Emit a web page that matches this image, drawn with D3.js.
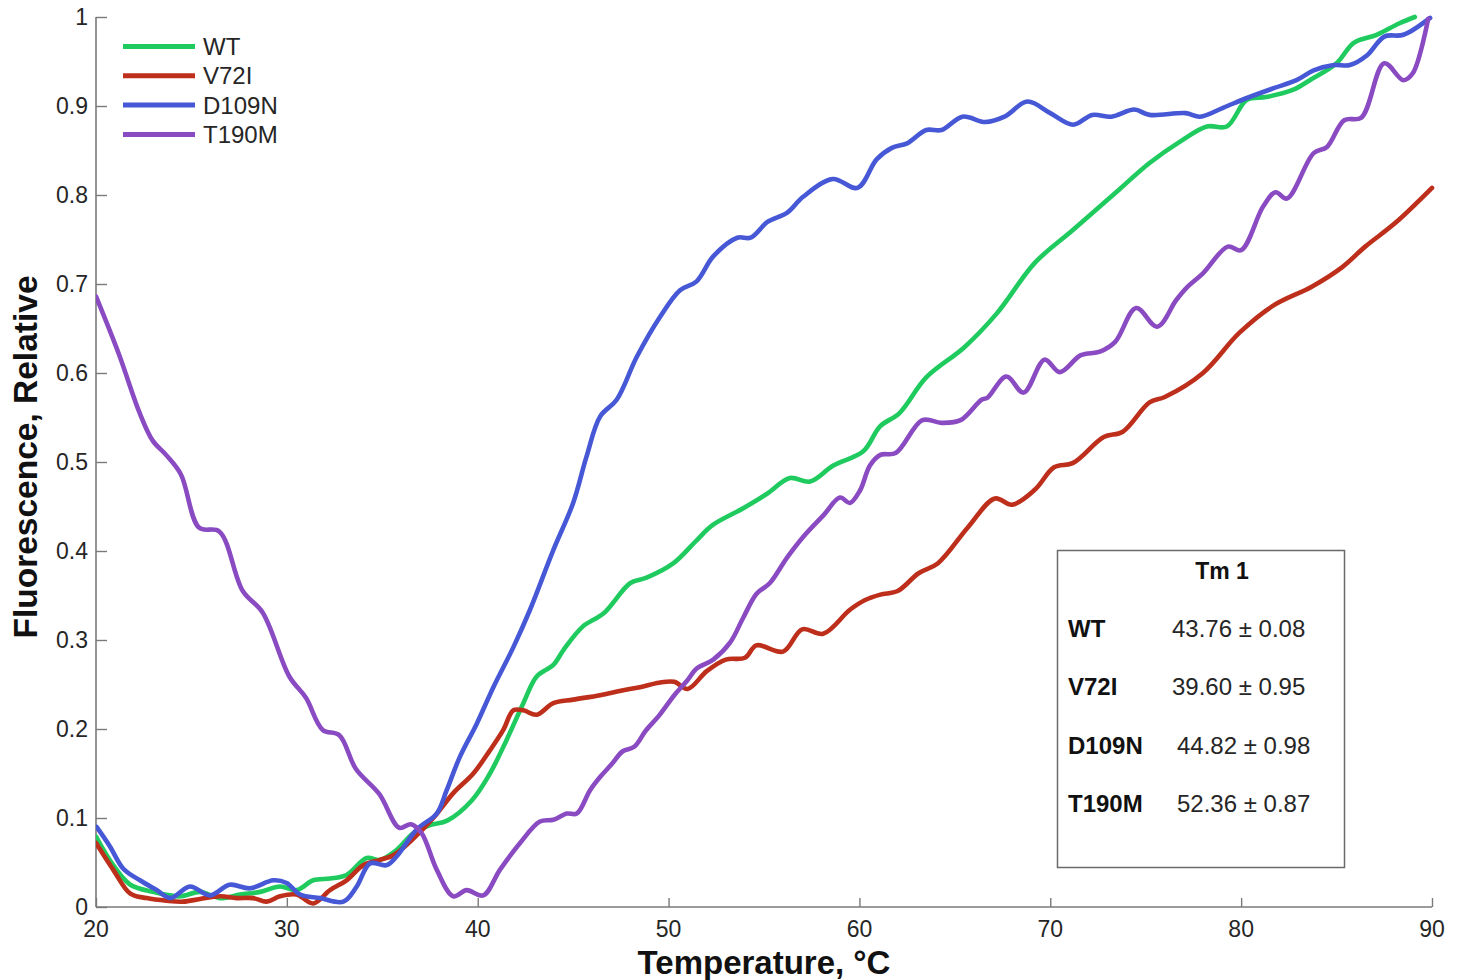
<!DOCTYPE html>
<html>
<head>
<meta charset="utf-8">
<script src="https://cdn.jsdelivr.net/npm/d3@7/dist/d3.min.js"></script>
<style>
  html, body { margin: 0; padding: 0; background: #fff; }
  svg { display: block; font-family: "Liberation Sans", Arial, sans-serif; }
</style>
</head>
<body>
<svg id="chart" width="1462" height="980"></svg>
<script>
// ---------- data ----------
const xTicks = [20, 30, 40, 50, 60, 70, 80, 90];
const yTicks = [0, 0.1, 0.2, 0.3, 0.4, 0.5, 0.6, 0.7, 0.8, 0.9, 1];
const yTickLabels = ["0", "0.1", "0.2", "0.3", "0.4", "0.5", "0.6", "0.7", "0.8", "0.9", "1"];

const seriesNames = ["WT", "V72I", "D109N", "T190M"];

const wtT = [20, 20.9, 21.8, 23.0, 24.4, 25.45, 26.5, 27.55, 28.6, 29.64, 30.51, 31.38, 32.26, 33.13, 34.18, 34.88, 35.75, 36.63, 37.5, 38.4, 39.7, 40.64, 41.52, 42.39, 43.09, 43.96, 44.5, 45.5, 46.6, 48.0, 48.85, 50.24, 51.47, 52.3, 53.91, 55.14, 56.36, 57.41, 58.63, 60.2, 61.08, 62.1, 63.5, 65.5, 67.2, 69.2, 71.2, 73.6, 75.2, 76.8, 78.2, 79.25, 80.3, 81.3, 82.7, 83.6, 85.0, 85.9, 87.1, 88.3, 89.1];
const wtV = [0.079, 0.047, 0.025, 0.017, 0.012, 0.017, 0.010, 0.014, 0.017, 0.023, 0.019, 0.030, 0.032, 0.036, 0.055, 0.053, 0.064, 0.083, 0.092, 0.097, 0.120, 0.150, 0.188, 0.229, 0.259, 0.272, 0.289, 0.315, 0.330, 0.364, 0.370, 0.386, 0.412, 0.429, 0.448, 0.464, 0.482, 0.478, 0.496, 0.512, 0.540, 0.555, 0.595, 0.629, 0.667, 0.724, 0.761, 0.806, 0.836, 0.860, 0.877, 0.877, 0.907, 0.910, 0.918, 0.929, 0.948, 0.971, 0.980, 0.993, 1.0];

const v72T = [20, 20.9, 21.8, 22.65, 23.7, 24.57, 25.45, 26.5, 27.37, 28.24, 28.94, 29.64, 30.51, 31.38, 32.26, 33.13, 34.0, 34.88, 35.58, 36.63, 37.67, 38.72, 39.77, 40.64, 41.34, 41.87, 42.39, 43.09, 43.96, 45.0, 46.41, 47.5, 48.5, 49.5, 50.3, 51.0, 52.0, 53.0, 54.0, 54.6, 56.0, 57.0, 58.1, 59.5, 60.3, 61.1, 62.0, 63.1, 64.1, 65.7, 67.1, 68.0, 69.2, 70.2, 71.2, 72.8, 73.8, 75.2, 76.0, 78.0, 79.9, 81.7, 83.7, 85.3, 86.5, 88.1, 90];
const v72V = [0.072, 0.042, 0.015, 0.010, 0.007, 0.006, 0.009, 0.012, 0.010, 0.010, 0.006, 0.012, 0.014, 0.004, 0.019, 0.030, 0.047, 0.053, 0.058, 0.077, 0.100, 0.128, 0.150, 0.176, 0.199, 0.221, 0.221, 0.216, 0.229, 0.233, 0.238, 0.243, 0.247, 0.252, 0.253, 0.245, 0.265, 0.278, 0.280, 0.294, 0.287, 0.312, 0.307, 0.334, 0.345, 0.351, 0.355, 0.375, 0.386, 0.427, 0.459, 0.452, 0.469, 0.494, 0.499, 0.528, 0.534, 0.567, 0.573, 0.600, 0.645, 0.676, 0.697, 0.719, 0.742, 0.769, 0.808];

const d109T = [20.03, 20.73, 21.43, 22.3, 23.18, 23.9, 24.92, 25.97, 27.0, 28.07, 29.29, 29.99, 30.69, 31.74, 32.96, 33.66, 34.36, 35.23, 35.76, 36.8, 37.85, 38.37, 39.07, 39.95, 40.82, 41.87, 42.74, 43.96, 45.0, 45.7, 46.41, 47.28, 48.33, 49.55, 50.6, 51.47, 52.34, 53.6, 54.3, 55.2, 56.2, 57.05, 58.6, 59.9, 60.9, 61.7, 62.5, 63.5, 64.3, 65.4, 66.6, 67.6, 68.8, 70.0, 71.2, 72.2, 73.2, 74.4, 75.2, 77.1, 77.85, 79.05, 80.3, 81.7, 82.9, 83.8, 84.85, 85.7, 86.6, 87.5, 88.5, 89.9];
const d109V = [0.090, 0.068, 0.043, 0.030, 0.019, 0.010, 0.023, 0.013, 0.025, 0.021, 0.030, 0.027, 0.014, 0.010, 0.006, 0.023, 0.049, 0.047, 0.057, 0.087, 0.105, 0.131, 0.169, 0.206, 0.247, 0.292, 0.334, 0.401, 0.454, 0.506, 0.551, 0.570, 0.618, 0.663, 0.693, 0.703, 0.731, 0.752, 0.752, 0.770, 0.780, 0.798, 0.818, 0.808, 0.840, 0.853, 0.858, 0.873, 0.873, 0.888, 0.882, 0.888, 0.905, 0.892, 0.879, 0.890, 0.888, 0.896, 0.890, 0.892, 0.888, 0.898, 0.909, 0.920, 0.929, 0.940, 0.946, 0.946, 0.957, 0.978, 0.980, 0.999];

const t190T = [20.0, 21.22, 22.27, 22.97, 23.67, 24.45, 25.41, 26.46, 27.69, 28.73, 30.13, 31.0, 31.88, 32.75, 33.62, 34.84, 35.89, 36.5, 37.06, 37.85, 38.72, 39.42, 40.29, 41.17, 42.22, 43.26, 43.96, 44.66, 45.19, 45.88, 46.41, 47.0, 47.6, 48.2, 48.8, 49.5, 50.3, 51.0, 51.47, 52.34, 53.22, 53.91, 54.61, 55.31, 56.19, 57.06, 58.11, 58.98, 59.5, 60.03, 60.55, 61.1, 61.9, 63.3, 64.3, 65.3, 66.4, 66.7, 67.7, 68.6, 69.7, 70.5, 71.6, 72.6, 73.4, 74.5, 75.6, 76.6, 77.2, 78.0, 79.3, 80.0, 81.15, 81.8, 82.4, 83.8, 84.5, 85.4, 86.3, 87.5, 88.5, 89.0, 89.8];
const t190V = [0.686, 0.620, 0.556, 0.524, 0.508, 0.486, 0.426, 0.422, 0.355, 0.331, 0.259, 0.235, 0.199, 0.193, 0.155, 0.127, 0.089, 0.093, 0.083, 0.042, 0.012, 0.019, 0.013, 0.042, 0.072, 0.096, 0.098, 0.105, 0.105, 0.131, 0.146, 0.160, 0.175, 0.180, 0.198, 0.215, 0.238, 0.255, 0.268, 0.278, 0.297, 0.325, 0.352, 0.364, 0.392, 0.416, 0.440, 0.460, 0.454, 0.468, 0.496, 0.508, 0.510, 0.547, 0.544, 0.547, 0.570, 0.572, 0.596, 0.578, 0.615, 0.601, 0.620, 0.624, 0.635, 0.673, 0.652, 0.682, 0.697, 0.712, 0.742, 0.738, 0.787, 0.803, 0.796, 0.847, 0.854, 0.884, 0.887, 0.948, 0.929, 0.937, 0.998];

const tmLabels = ["WT", "V72I", "D109N", "T190M"];
const tmValues = ["43.76 \u00B1 0.08", "39.60 \u00B1 0.95", "44.82 \u00B1 0.98", "52.36 \u00B1 0.87"];

// ---------- chart ----------
const svg = d3.select("#chart");
const x = d3.scaleLinear().domain([20, 90]).range([96, 1432]);
const y = d3.scaleLinear().domain([0, 1]).range([907, 17]);

const series = [
  { name: "WT", T: wtT, V: wtV, color: "#1fcb5e" },
  { name: "V72I", T: v72T, V: v72V, color: "#bd2e1b" },
  { name: "D109N", T: d109T, V: d109V, color: "#4658d6" },
  { name: "T190M", T: t190T, V: t190V, color: "#8a4bc2" }
];

svg.append("defs").append("clipPath").attr("id", "clip")
  .append("rect").attr("x", 96).attr("y", 12).attr("width", 1340).attr("height", 897);

const axisColor = "#7a7a7a";
const textColor = "#262626";

// Y axis
const yAxis = d3.axisRight(y).tickValues(yTicks).tickSize(11).tickFormat("");
const gy = svg.append("g").attr("transform", "translate(96,0)").call(yAxis);
gy.select(".domain").attr("stroke", axisColor).attr("stroke-width", 1.6).attr("d", `M0,${y(1)}V${y(0)}`);
gy.selectAll(".tick line").attr("stroke", axisColor).attr("stroke-width", 1.4);
svg.append("g").selectAll("text").data(yTicks).join("text")
  .attr("x", 88).attr("y", d => y(d)).attr("dy", "0.36em")
  .attr("text-anchor", "end").attr("font-size", 23).attr("fill", textColor)
  .text((d, i) => yTickLabels[i]);

// X axis
const xAxis = d3.axisTop(x).tickValues(xTicks).tickSize(9).tickFormat("");
const gx = svg.append("g").attr("transform", `translate(0,${y(0)})`).call(xAxis);
gx.select(".domain").attr("stroke", axisColor).attr("stroke-width", 1.6).attr("d", `M${x(20)},0H${x(90)}`);
gx.selectAll(".tick line").attr("stroke", axisColor).attr("stroke-width", 1.4);
svg.append("g").selectAll("text").data(xTicks).join("text")
  .attr("x", d => x(d)).attr("y", 937)
  .attr("text-anchor", "middle").attr("font-size", 23).attr("fill", textColor)
  .text(d => d);

// Axis titles
svg.append("text").attr("x", 764).attr("y", 974).attr("text-anchor", "middle")
  .attr("font-size", 33).attr("font-weight", "bold").attr("fill", "#111")
  .text("Temperature, \u00B0C");
svg.append("text").attr("transform", "translate(37,457) rotate(-90)").attr("text-anchor", "middle")
  .attr("font-size", 33.5).attr("font-weight", "bold").attr("fill", "#111")
  .text("Fluorescence, Relative");

// Lines
const line = d3.line()
  .x(d => x(d[0])).y(d => y(Math.min(1, d[1])))
  .curve(d3.curveCatmullRom.alpha(0.5));

const gl = svg.append("g").attr("clip-path", "url(#clip)");
series.forEach(s => {
  const pts = s.T.map((t, i) => [t, s.V[i]]);
  gl.append("path").datum(pts)
    .attr("fill", "none").attr("stroke", s.color).attr("stroke-width", 4.6)
    .attr("stroke-linejoin", "round").attr("stroke-linecap", "round")
    .attr("d", line);
});

// Legend
const lg = svg.append("g");
series.forEach((s, i) => {
  const ly = 46.5 + i * 29.3;
  lg.append("line").attr("x1", 123).attr("x2", 195).attr("y1", ly).attr("y2", ly)
    .attr("stroke", s.color).attr("stroke-width", 5);
  lg.append("text").attr("x", 203).attr("y", ly).attr("dy", "0.36em")
    .attr("font-size", 24).attr("fill", textColor).text(s.name);
});

// Tm box
const bx = svg.append("g");
bx.append("rect").attr("x", 1057.5).attr("y", 550.5).attr("width", 287).attr("height", 317)
  .attr("fill", "#fff").attr("stroke", "#6a6a6a").attr("stroke-width", 1.5);
bx.append("text").attr("x", 1222).attr("y", 571).attr("dy", "0.36em").attr("text-anchor", "middle")
  .attr("font-size", 23).attr("font-weight", "bold").attr("fill", "#111").text("Tm 1");
const rowY = [628, 686.5, 745, 803.5];
const valX = [1172, 1172, 1177, 1177];
tmLabels.forEach((l, i) => {
  bx.append("text").attr("x", 1068).attr("y", rowY[i]).attr("dy", "0.36em")
    .attr("font-size", 24).attr("font-weight", "bold").attr("fill", "#111").text(l);
  bx.append("text").attr("x", valX[i]).attr("y", rowY[i]).attr("dy", "0.36em")
    .attr("font-size", 24).attr("fill", textColor).text(tmValues[i]);
});
</script>
</body>
</html>
